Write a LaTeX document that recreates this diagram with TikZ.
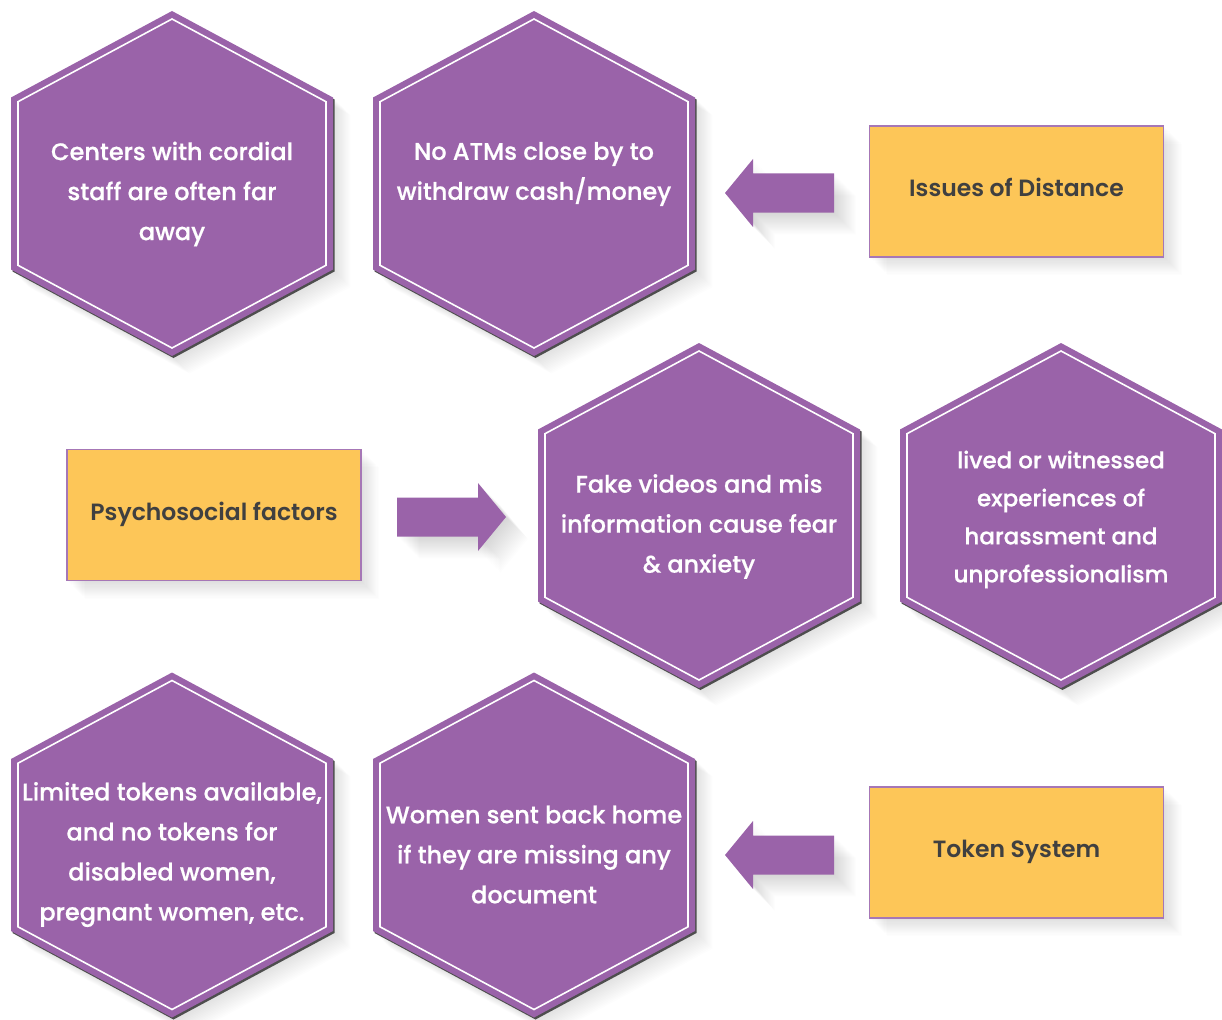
\documentclass[tikz,border=0pt]{standalone}
\usepackage{fontspec}
\IfFontExistsTF{Poppins SemiBold}{\newfontfamily\boxfont{Poppins SemiBold}}{\newfontfamily\boxfont{Poppins}[FakeBold=1.5]}
\IfFontExistsTF{Poppins Medium}{\newfontfamily\hexfont{Poppins Medium}[FakeBold=0.6]}{\newfontfamily\hexfont{Poppins SemiBold}}

\definecolor{hexpurple}{HTML}{9A63A9}
\definecolor{boxyellow}{HTML}{FDC658}
\definecolor{boxedge}{HTML}{A677B6}
\definecolor{textdark}{HTML}{404040}
\definecolor{rimdark}{HTML}{4E4E4E}

% outer and inner outline of a hexagon cell, relative to its centre
\newcommand\hexouter{(0,-172.5) -- (161,-86) -- (161,86) -- (0,172.5) -- (-161,86) -- (-161,-86) -- cycle}
\newcommand\hexinner{(0,-164.5) -- (154,-81.8) -- (154,81.8) -- (0,164.5) -- (-154,81.8) -- (-154,-81.8) -- cycle}
% block arrow pointing left, relative to its centre
\newcommand\arrowouter{(-54.5,0) -- (-26.5,-34) -- (-26.5,-19.5) -- (54.5,-19.5) -- (54.5,19.5) -- (-26.5,19.5) -- (-26.5,34) -- cycle}

% soft shadow cast towards the lower right
\newcommand\longshadow[2][16]{%
  \foreach \i in {1,...,#1}{\fill[black, opacity=0.009, shift={(\i*1.1,\i*1.1)}] #2;}}

\newcommand\hexcell[3]{% name, x, y
  \coordinate (#1) at (#2,#3);
  \begin{scope}[shift={(#1)}]
    \longshadow{\hexouter}
    \fill[rimdark, shift={(1.5,2)}] \hexouter;
    \fill[hexpurple] \hexouter;
    \draw[white, line width=1.6pt, line join=miter] \hexinner;
  \end{scope}}

\newcommand\blockarrow[4]{% name, x, y, direction (-1 left, 1 right)
  \coordinate (#1) at (#2,#3);
  \begin{scope}[shift={(#1)}]
    \foreach \i in {1,...,20}{\fill[black, opacity=0.008, shift={(\i*1.1,\i*1.1)}, xscale=-#4] \arrowouter;}
    \fill[hexpurple, xscale=-#4] \arrowouter;
  \end{scope}}

\newcommand\boxshadow[4]{\longshadow{(#1,#2) rectangle (#3,#4)}}

\tikzset{
  hextext/.style={text=white, align=center, inner sep=0pt,
    font=\hexfont\fontsize{24}{40}\selectfont},
  factorbox/.style={fill=boxyellow, draw=boxedge, line width=1.5pt,
    minimum width=294pt, minimum height=131pt, inner sep=0pt,
    text height=18pt, text depth=8pt,
    text=textdark, font=\boxfont\fontsize{23.5}{26}\selectfont},
}

\begin{document}
\begin{tikzpicture}[x=1pt, y=-1pt]
  \path[use as bounding box] (0,0) rectangle (1222,1019);
  \clip (0,0) rectangle (1222,1019);

  % hexagon cells
  \hexcell{h1}{172}{183.5}
  \hexcell{h2}{534}{183.5}
  \hexcell{h3}{699}{515.5}
  \hexcell{h4}{1061}{515.5}
  \hexcell{h5}{172}{845}
  \hexcell{h6}{534}{845}

  \node[hextext] (t1) at (172,194) {Centers with cordial\\staff are often far\\away};
  \node[hextext] (t2) at (534,174) {No ATMs close by to\\withdraw cash/money};
  \node[hextext] (t3) at (699,526.5) {Fake videos and mis\\information cause fear\\\& anxiety};
  \node[hextext, font=\hexfont\fontsize{23}{38}\selectfont] (t4) at (1061,519.5) {lived or witnessed\\experiences of\\harassment and\\unprofessionalism};
  \node[hextext] (t5) at (172,854.5) {Limited tokens available,\\and no tokens for\\disabled women,\\pregnant women, etc.};
  \node[hextext] (t6) at (534,854.5) {Women sent back home\\if they are missing any\\document};

  % factor boxes
  \boxshadow{869}{126}{1164}{257}
  \boxshadow{67}{449}{361}{581}
  \boxshadow{869}{787}{1164}{918}
  \node[factorbox] (b1) at (1016.5,191.5) {Issues of Distance};
  \node[factorbox] (b2) at (214,515) {Psychosocial factors};
  \node[factorbox] (b3) at (1016.5,852.5) {Token System};

  % block arrows
  \blockarrow{a1}{779.5}{193}{-1}
  \blockarrow{a2}{451.5}{517}{1}
  \blockarrow{a3}{779.5}{855}{-1}
\end{tikzpicture}
\end{document}
